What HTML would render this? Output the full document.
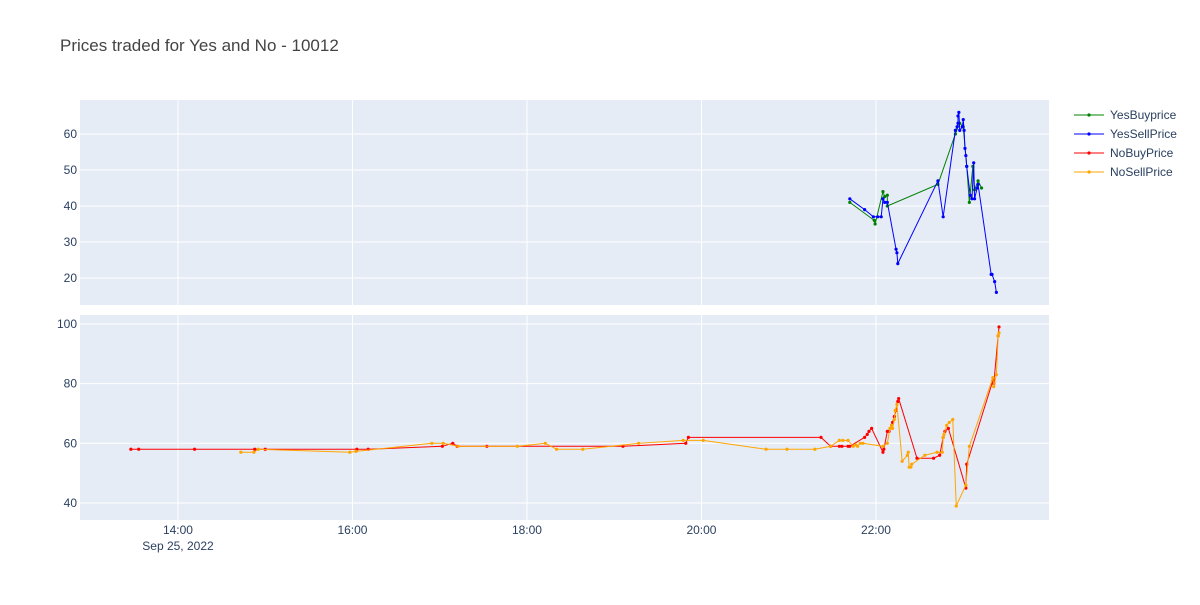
<!DOCTYPE html>
<html><head><meta charset="utf-8"><style>
body{margin:0;background:#fff;font-family:"Liberation Sans",sans-serif;}
svg text{font-family:"Liberation Sans",sans-serif;fill:#2a3f5f;}
</style></head><body>
<svg id="chart" width="1200" height="600">
<rect width="1200" height="600" fill="#fff"/>
<text x="60" y="51" font-size="17" style="fill:#444">Prices traded for Yes and No - 10012</text>
</svg>
<script>
const yesBuyT=[21.70,21.98,21.99,22.08,22.10,22.13,22.13,22.71,22.91,22.96,23.00,23.04,23.07,23.11,23.13,23.17,23.21];
const yesBuyV=[41,36,35,44,42.6,43,40,46,60,63,62,51,41,51,44.5,47,45];
const yesSellT=[21.70,21.87,21.97,22.02,22.06,22.08,22.10,22.13,22.23,22.24,22.25,22.71,22.77,22.91,22.93,22.94,22.94,22.95,22.96,22.99,23.00,23.01,23.02,23.03,23.04,23.08,23.10,23.12,23.13,23.16,23.17,23.32,23.33,23.36,23.38];
const yesSellV=[42,39,37,37,37,42,41,41,28,27,24,47,37,61,62,63,65,66,61,62,64,61,56,54,51,43,42,52,42,45,46,21,21,19,16];
const noBuyT=[13.46,13.55,14.19,14.88,15.00,16.05,16.18,17.03,17.15,17.20,17.54,19.10,19.82,19.85,21.37,21.48,21.58,21.61,21.68,21.70,21.87,21.90,21.92,21.95,22.08,22.09,22.13,22.15,22.18,22.19,22.21,22.23,22.25,22.26,22.47,22.66,22.73,22.77,22.79,22.83,23.03,23.04,23.34,23.35,23.40,23.41];
const noBuyV=[58,58,58,58,58,58,58,59,60,59,59,59,60,62,62,59,59,59,59,59,62,63,64,65,57,58,64,64,66,67,69,71,74,75,55,55,56,62,64,65,45,53,81,80,96,99];
const noSellT=[14.72,14.87,14.92,15.97,16.04,16.91,17.04,17.21,17.89,18.21,18.34,18.64,19.28,19.79,20.02,20.74,20.98,21.30,21.48,21.58,21.62,21.68,21.74,21.77,21.79,21.82,21.85,22.08,22.13,22.16,22.18,22.19,22.21,22.22,22.24,22.30,22.36,22.37,22.38,22.40,22.41,22.56,22.70,22.76,22.77,22.78,22.81,22.84,22.88,22.92,23.03,23.07,23.34,23.35,23.38,23.40,23.41];
const noSellV=[57,57,58,57,57.3,60,60,59,59,60,58,58,60,61,61,58,58,58,59,61,61,61,59,59.5,59,60,60,59,60,65,66,65,68,71,73,54,56,57,52,52,53,56,57,57,62,63,66,67,68,39,46,59,82,79,83,96,97];
const xTicks=[14,16,18,20,22];
const xTickLabels=["14:00","16:00","18:00","20:00","22:00"];
const topTicks=[20,30,40,50,60];
const botTicks=[40,60,80,100];

const NS="http://www.w3.org/2000/svg";
const svg=document.getElementById('chart');
const L=80,R=1049;
const x=h=>L+(h-12.877)/(23.983-12.877)*(R-L);
const yTop=v=>305-(v-12.5)/(69.44-12.5)*205;
const yBot=v=>520-(v-34.3)/(103.0-34.3)*205;
function mk(tag,attrs){const e=document.createElementNS(NS,tag);for(const k in attrs)e.setAttribute(k,attrs[k]);svg.appendChild(e);return e;}

function panel(top,bot,yf,ticks,name){
  const bg=mk('rect',{x:L,y:top,width:R-L,height:bot-top,fill:'#e5ecf6'});
  
  
  xTicks.forEach(t=>{const g=mk('line',{x1:x(t),x2:x(t),y1:top,y2:bot,stroke:'#fff','stroke-width':1});
    
    });
  ticks.forEach(t=>{const g=mk('line',{x1:L,x2:R,y1:yf(t),y2:yf(t),stroke:'#fff','stroke-width':1});
    
    
    const tx=mk('text',{x:L-3,y:yf(t)+4,'font-size':12,'text-anchor':'end'});tx.textContent=t;
    
    });
}
panel(100,305,yTop,topTicks,'top');
panel(315,520,yBot,botTicks,'bottom');
xTicks.forEach((t,i)=>{const tx=mk('text',{x:x(t),y:534,'font-size':12,'text-anchor':'middle'});tx.textContent=xTickLabels[i];
  
  });
const d=mk('text',{x:x(14),y:550,'font-size':12,'text-anchor':'middle'});d.textContent='Sep 25, 2022';



function series(T,V,yf,color,name){
  const p=mk('polyline',{points:T.map((t,i)=>x(t)+','+yf(V[i])).join(' '),fill:'none',stroke:color,'stroke-width':1});
  
  
  T.forEach((t,i)=>{const c=mk('circle',{cx:x(t),cy:yf(V[i]),r:1.6,fill:color});
    
    });
}
series(yesBuyT,yesBuyV,yTop,'green','yes-buy');
series(yesSellT,yesSellV,yTop,'blue','yes-sell');
series(noBuyT,noBuyV,yBot,'red','no-buy');
series(noSellT,noSellV,yBot,'orange','no-sell');

const leg=[["YesBuyprice","green"],["YesSellPrice","blue"],["NoBuyPrice","red"],["NoSellPrice","orange"]];
leg.forEach((l,i)=>{const y=115+i*19;
  const ln=mk('line',{x1:1074,x2:1104,y1:y,y2:y,stroke:l[1],'stroke-width':1});
  
  
  const c=mk('circle',{cx:1089,cy:y,r:1.6,fill:l[1]});
  
  
  const tx=mk('text',{x:1110,y:y+4,'font-size':12});tx.textContent=l[0];
  
  });
</script>
</body></html>
